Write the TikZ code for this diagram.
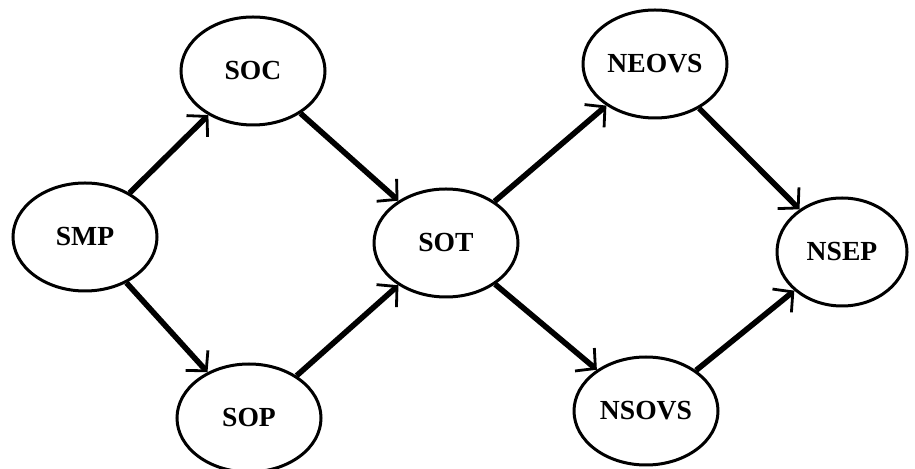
\documentclass[tikz,border=0pt]{standalone}
\usepackage{fontspec}
\setmainfont{Liberation Serif}
\usetikzlibrary{shapes.geometric,arrows.meta}

\begin{document}
\begin{tikzpicture}[x=0.5pt,y=-0.5pt,
    state/.style ={ellipse, draw, line width=1.5pt, inner sep=0pt,
      minimum width=72pt, minimum height=54pt,
      font=\fontsize{13.8}{16}\selectfont\bfseries},
    flow/.style ={line width=2.8pt,
      -{Straight Barb[line width=1.4pt, length=7pt, width=15pt]}}]
   \useasboundingbox (0,0) rectangle (915,469);
   \node[state] (SMP)  at (85,237)  {SMP};
   \node[state] (SOC)  at (253,71)  {SOC};
   \node[state] (SOP)  at (249,418)  {SOP};
   \node[state] (SOT)  at (446,243)  {SOT};
   \node[state] (NEOVS)  at (655,64)  {NEOVS};
   \node[state] (NSOVS)  at (646,411)  {NSOVS};
   \node[state,minimum width=65pt] (NSEP)  at (842,252)  {NSEP};

   \draw[flow] (SMP) to (SOC);
   \draw[flow] (SMP) to (SOP);
   \draw[flow] (SOC) to (SOT);
   \draw[flow] (SOP) to (SOT);
   \draw[flow] (SOT) to (NEOVS);
   \draw[flow] (SOT) to (NSOVS);
   \draw[flow] (NEOVS) to (NSEP);
   \draw[flow] (NSOVS) to (NSEP);
 \end{tikzpicture}
\end{document}
